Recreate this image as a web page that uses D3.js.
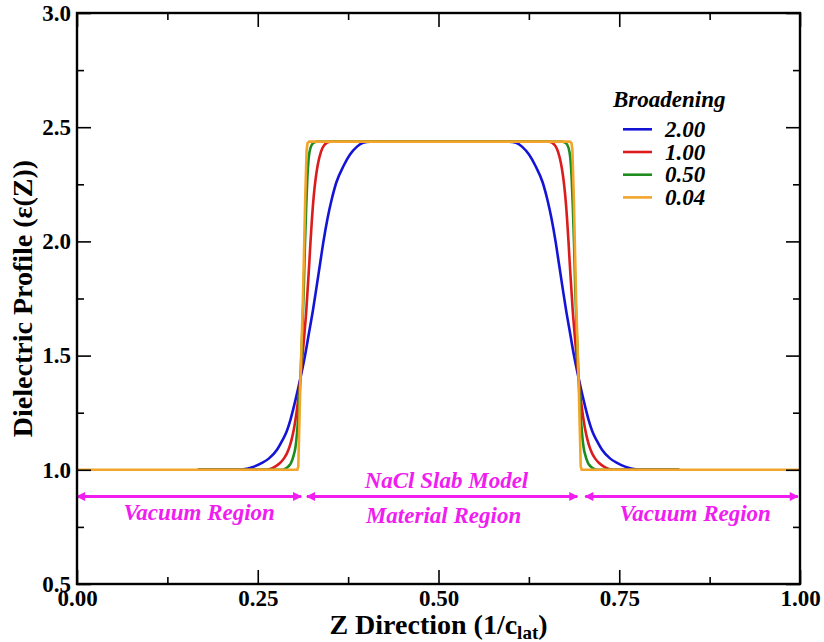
<!DOCTYPE html>
<html>
<head>
<meta charset="utf-8">
<script src="https://cdn.jsdelivr.net/npm/d3@7"></script>
<style>
  html, body { margin: 0; padding: 0; background: #fff; }
  svg { display: block; }
  text { font-family: "Liberation Serif", "Times New Roman", serif; font-weight: bold; }
</style>
</head>
<body>
<svg id="chart" width="824" height="642"></svg>
<script>
// ---------------- data ----------------
const seriesNames = ["2.00", "1.00", "0.50", "0.04"];
const seriesColors = ["#1414d6", "#dc1c1c", "#1e8c1e", "#f2a52a"];

const z_200 = [0.167, 0.2254, 0.2351, 0.2448, 0.2559, 0.2656, 0.2766, 0.2842, 0.2891, 0.2953, 0.3022, 0.3091, 0.3154, 0.3209, 0.3264, 0.3313, 0.3361, 0.3409, 0.3465, 0.3520, 0.3589, 0.3686, 0.3776, 0.3873, 0.3956, 0.4053,
               0.5975, 0.6072, 0.6155, 0.6252, 0.6342, 0.6439, 0.6508, 0.6563, 0.6619, 0.6667, 0.6715, 0.6764, 0.6819, 0.6874, 0.6937, 0.7006, 0.7075, 0.7137, 0.7186, 0.7262, 0.7372, 0.7469, 0.7580, 0.7677, 0.7774, 0.833];
const eps_200 = [1.0, 1.0, 1.005, 1.014, 1.030, 1.050, 1.088, 1.130, 1.161, 1.220, 1.306, 1.403, 1.500, 1.600, 1.700, 1.800, 1.900, 2.000, 2.100, 2.180, 2.260, 2.330, 2.380, 2.415, 2.432, 2.437,
                 2.437, 2.432, 2.415, 2.380, 2.330, 2.260, 2.180, 2.100, 2.000, 1.900, 1.800, 1.700, 1.600, 1.500, 1.403, 1.306, 1.220, 1.161, 1.130, 1.088, 1.050, 1.030, 1.014, 1.005, 1.0, 1.0];

const z_100 = [0.167, 0.2614, 0.2683, 0.2746, 0.2808, 0.2863, 0.2905, 0.2939, 0.2967, 0.3001, 0.3036, 0.3064, 0.3091, 0.3119, 0.3147, 0.3172, 0.3192, 0.3212, 0.3230, 0.3250, 0.3275, 0.3303, 0.3333, 0.3372, 0.3416, 0.3499,
               0.6529, 0.6612, 0.6656, 0.6695, 0.6725, 0.6753, 0.6778, 0.6798, 0.6816, 0.6836, 0.6856, 0.6881, 0.6909, 0.6937, 0.6964, 0.6992, 0.7027, 0.7061, 0.7089, 0.7123, 0.7165, 0.7220, 0.7282, 0.7345, 0.7414, 0.833];
const eps_100 = [1.0, 1.0, 1.005, 1.015, 1.030, 1.050, 1.073, 1.100, 1.131, 1.180, 1.250, 1.320, 1.403, 1.500, 1.600, 1.700, 1.800, 1.900, 2.000, 2.100, 2.200, 2.280, 2.340, 2.390, 2.420, 2.437,
                 2.437, 2.420, 2.390, 2.340, 2.280, 2.200, 2.100, 2.000, 1.900, 1.800, 1.700, 1.600, 1.500, 1.403, 1.320, 1.250, 1.180, 1.131, 1.100, 1.073, 1.050, 1.030, 1.015, 1.005, 1.0, 1.0];

const z_050 = [0.167, 0.2835, 0.2884, 0.2925, 0.2960, 0.2994, 0.3022, 0.3043, 0.3064, 0.3091, 0.3116, 0.3137, 0.3154, 0.3170, 0.3185, 0.3203, 0.3230, 0.3264, 0.3320,
               0.6708, 0.6764, 0.6798, 0.6825, 0.6843, 0.6858, 0.6874, 0.6891, 0.6912, 0.6937, 0.6964, 0.6985, 0.7006, 0.7034, 0.7068, 0.7103, 0.7144, 0.7193, 0.833];
const eps_050 = [1.0, 1.0, 1.005, 1.015, 1.030, 1.060, 1.100, 1.160, 1.250, 1.403, 1.600, 1.800, 2.000, 2.150, 2.270, 2.360, 2.410, 2.430, 2.437,
                 2.437, 2.430, 2.410, 2.360, 2.270, 2.150, 2.000, 1.800, 1.600, 1.403, 1.250, 1.160, 1.100, 1.060, 1.030, 1.015, 1.005, 1.0, 1.0];

const z_004 = [0.0, 0.3047, 0.3061, 0.3091, 0.3123, 0.3156, 0.3176, 0.3189, 0.3209,
               0.6819, 0.6839, 0.6852, 0.6872, 0.6905, 0.6937, 0.6967, 0.6981, 1.0];
const eps_004 = [1.0, 1.0, 1.015, 1.403, 1.722, 2.182, 2.400, 2.430, 2.437,
                 2.437, 2.430, 2.400, 2.182, 1.722, 1.403, 1.015, 1.0, 1.0];

const xMajorTicks = [0, 0.25, 0.5, 0.75, 1.0];
const xMinorTicks = [0.125, 0.375, 0.625, 0.875];
const xTickLabels = ["0.00", "0.25", "0.50", "0.75", "1.00"];
const yMajorTicks = [0.5, 1.0, 1.5, 2.0, 2.5, 3.0];
const yMinorTicks = [0.75, 1.25, 1.75, 2.25, 2.75];
const yTickLabels = ["0.5", "1.0", "1.5", "2.0", "2.5", "3.0"];

// annotation arrows: [z start, z end] at eps level
const arrowStarts = [0.0, 0.318, 0.703];
const arrowEnds   = [0.310, 0.692, 0.997];
const arrowEps = 0.883;
// annotation labels
const annoTexts = ["Vacuum Region", "NaCl Slab Model", "Material Region", "Vacuum Region"];
const annoZ     = [0.169, 0.511, 0.507, 0.855];
const annoEps   = [0.781, 0.921, 0.768, 0.775];

// ---------------- layout ----------------
const svg = d3.select("#chart");
const L = 77, R = 800, T = 13, B = 584;
const x = d3.scaleLinear().domain([0, 1]).range([L, R]);
const y = d3.scaleLinear().domain([0.5, 3.0]).range([B, T]);

const allZ = [z_200, z_100, z_050, z_004];
const allE = [eps_200, eps_100, eps_050, eps_004];
const curves = [d3.curveMonotoneX, d3.curveMonotoneX, d3.curveMonotoneX, d3.curveLinear];

const plot = svg.append("g");
allZ.forEach((zs, i) => {
  const pts = zs.map((z, j) => [z, allE[i][j]]);
  const line = d3.line().x(d => x(d[0])).y(d => y(d[1])).curve(curves[i]);
  plot.append("path")
    .datum(pts)
    .attr("d", line)
    .attr("fill", "none")
    .attr("stroke", seriesColors[i])
    .attr("stroke-width", 2.6)
    .attr("stroke-linejoin", "round");
});

// ---------------- annotations ----------------
const magenta = "#f01cf0";
const defs = svg.append("defs");
defs.append("marker").attr("id", "ah").attr("viewBox", "0 0 10 10")
  .attr("refX", 9).attr("refY", 5).attr("markerWidth", 3.6).attr("markerHeight", 3.2)
  .attr("markerUnits", "strokeWidth").attr("orient", "auto-start-reverse")
  .append("path").attr("d", "M0,0 L10,5 L0,10 Z").attr("fill", magenta);

arrowStarts.forEach((s, i) => {
  svg.append("line")
    .attr("x1", x(s)).attr("x2", x(arrowEnds[i]))
    .attr("y1", y(arrowEps)).attr("y2", y(arrowEps))
    .attr("stroke", magenta).attr("stroke-width", 2.8)
    .attr("marker-start", "url(#ah)").attr("marker-end", "url(#ah)");
});

annoTexts.forEach((t, i) => {
  svg.append("text")
    .attr("x", x(annoZ[i])).attr("y", y(annoEps[i]))
    .attr("text-anchor", "middle")
    .attr("font-size", 23).attr("font-style", "italic")
    .attr("fill", magenta)
    .text(t);
});

// ---------------- axes ----------------
function styleAxis(g) {
  g.select(".domain").remove();
  g.selectAll(".tick line").attr("stroke", "#000").attr("stroke-width", 1.6);
  g.selectAll(".tick text").attr("fill", "#000").attr("font-size", 23)
    .attr("font-family", "'Liberation Serif', 'Times New Roman', serif").attr("font-weight", "bold");
}

svg.append("g").attr("transform", `translate(0,${B})`)
  .call(d3.axisBottom(x).tickValues(xMajorTicks).tickSizeInner(-14).tickSizeOuter(0).tickPadding(6)
    .tickFormat((d, i) => xTickLabels[i]))
  .call(styleAxis);
svg.append("g").attr("transform", `translate(0,${B})`)
  .call(d3.axisBottom(x).tickValues(xMinorTicks).tickSizeInner(-7).tickSizeOuter(0).tickFormat(""))
  .call(styleAxis);
svg.append("g").attr("transform", `translate(0,${T})`)
  .call(d3.axisTop(x).tickValues(xMajorTicks).tickSizeInner(-14).tickSizeOuter(0).tickFormat(""))
  .call(styleAxis);
svg.append("g").attr("transform", `translate(0,${T})`)
  .call(d3.axisTop(x).tickValues(xMinorTicks).tickSizeInner(-7).tickSizeOuter(0).tickFormat(""))
  .call(styleAxis);

svg.append("g").attr("transform", `translate(${L},0)`)
  .call(d3.axisLeft(y).tickValues(yMajorTicks).tickSizeInner(-14).tickSizeOuter(0).tickPadding(6)
    .tickFormat((d, i) => yTickLabels[i]))
  .call(styleAxis);
svg.append("g").attr("transform", `translate(${L},0)`)
  .call(d3.axisLeft(y).tickValues(yMinorTicks).tickSizeInner(-7).tickSizeOuter(0).tickFormat(""))
  .call(styleAxis);
svg.append("g").attr("transform", `translate(${R},0)`)
  .call(d3.axisRight(y).tickValues(yMajorTicks).tickSizeInner(-14).tickSizeOuter(0).tickFormat(""))
  .call(styleAxis);
svg.append("g").attr("transform", `translate(${R},0)`)
  .call(d3.axisRight(y).tickValues(yMinorTicks).tickSizeInner(-7).tickSizeOuter(0).tickFormat(""))
  .call(styleAxis);

svg.append("rect").attr("x", L).attr("y", T).attr("width", R - L).attr("height", B - T)
  .attr("fill", "none").attr("stroke", "#000").attr("stroke-width", 2.4);

// ---------------- titles ----------------
const xt = svg.append("text").attr("x", (L + R) / 2).attr("y", 634)
  .attr("text-anchor", "middle").attr("font-size", 28).attr("fill", "#000");
xt.append("tspan").text("Z Direction (1/c");
xt.append("tspan").attr("font-size", 19).attr("dy", 5).text("lat");
xt.append("tspan").attr("dy", -5).text(")");

svg.append("text")
  .attr("transform", `translate(32,${(T + B) / 2}) rotate(-90)`)
  .attr("text-anchor", "middle").attr("font-size", 28).attr("fill", "#000")
  .text("Dielectric Profile (ε(Z))");

// ---------------- legend ----------------
const leg = svg.append("g");
leg.append("text").attr("x", 613).attr("y", 107).attr("font-size", 23)
  .attr("font-style", "italic").attr("fill", "#000").text("Broadening");
seriesNames.forEach((n, i) => {
  const ly = 129.3 + i * 22.7;
  leg.append("line").attr("x1", 623).attr("x2", 652).attr("y1", ly).attr("y2", ly)
    .attr("stroke", seriesColors[i]).attr("stroke-width", 2.6);
  leg.append("text").attr("x", 665).attr("y", ly + 7.5).attr("font-size", 23)
    .attr("font-style", "italic").attr("fill", "#000").text(n);
});
</script>
</body>
</html>
